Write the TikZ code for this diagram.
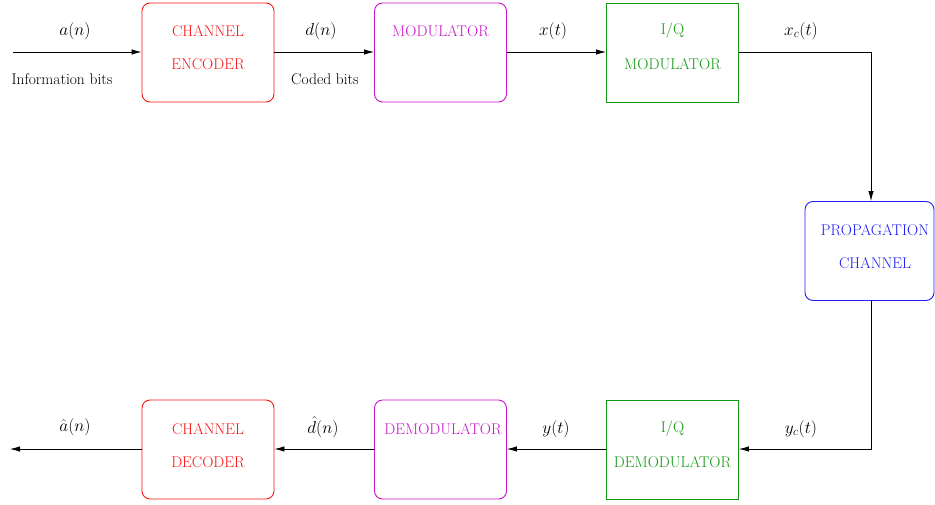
\documentclass[tikz,border=0pt]{standalone}
\usetikzlibrary{arrows.meta}
\definecolor{cred}{RGB}{250,20,20}
\definecolor{cmag}{RGB}{200,20,200}
\definecolor{cgreen}{RGB}{20,150,20}
\definecolor{cblue}{RGB}{30,30,240}
\begin{document}
\begin{tikzpicture}[x=1pt,y=-1pt,
  font=\fontsize{15.5}{18}\selectfont,
  blk/.style={draw, line width=0.9pt, minimum width=132pt, minimum height=99pt, inner sep=0pt},
  rblk/.style={blk, rounded corners=8pt},
  lbl/.style={inner sep=0pt},
  mlbl/.style={inner sep=0pt, font=\fontsize{18}{20}\selectfont},
  conn/.style={line width=0.8pt, -{Latex[length=10pt,width=5.5pt]}}]
\useasboundingbox (0,0) rectangle (935,504);
% boxes
\node[rblk, draw=cred] (enc) at (208,52.5) {};
\node[rblk, draw=cmag] (mod) at (440.5,52.5) {};
\node[blk, draw=cgreen] (iqm) at (672.5,52.5) {};
\node[rblk, draw=cblue, minimum width=129pt] (prop) at (869.5,251) {};
\node[rblk, draw=cred] (dec) at (208,449.5) {};
\node[rblk, draw=cmag] (dem) at (440.5,449.5) {};
\node[blk, draw=cgreen] (iqd) at (672.5,449.5) {};
% box texts
\node[lbl, text=cred] (t1) at (208,31) {CHANNEL};
\node[lbl, text=cred] (t2) at (208,64) {ENCODER};
\node[lbl, text=cmag] (t3) at (440.5,31) {MODULATOR};
\node[lbl, text=cgreen] (t4) at (672.5,31) {I/Q};
\node[lbl, text=cgreen] (t5) at (672.5,64) {MODULATOR};
\node[lbl, text=cblue] (t6) at (875,230) {PROPAGATION};
\node[lbl, text=cblue] (t7) at (875,263) {CHANNEL};
\node[lbl, text=cred] (t8) at (208,429) {CHANNEL};
\node[lbl, text=cred] (t9) at (208,462) {DECODER};
\node[lbl, text=cmag] (t10) at (443,429) {DEMODULATOR};
\node[lbl, text=cgreen] (t11) at (672.5,429) {I/Q};
\node[lbl, text=cgreen] (t12) at (672.5,462) {DEMODULATOR};
% connectors
\coordinate (in) at (13,52);
\coordinate (out) at (10,449);
\coordinate (c1) at (871,52);
\coordinate (c2) at (871,449);
\draw[conn] (in) -- (enc.west |- in);
\draw[conn] (enc.east |- in) -- (mod.west |- in);
\draw[conn] (mod.east |- in) -- (iqm.west |- in);
\draw[conn] (iqm.east |- c1) -- (c1) -- (c1 |- prop.north);
\draw[conn] (c1 |- prop.south) -- (c2) -- (iqd.east |- c2);
\draw[conn] (iqd.west |- c2) -- (dem.east |- c2);
\draw[conn] (dem.west |- c2) -- (dec.east |- c2);
\draw[conn] (dec.west |- out) -- (out);
% labels
\node[mlbl] (la) at (75,31) {$a(n)$};
\node[lbl] (lib) at (62,79) {Information bits};
\node[mlbl] (ld) at (321,31) {$d(n)$};
\node[lbl] (lcb) at (325,79) {Coded bits};
\node[mlbl] (lx) at (553,31) {$x(t)$};
\node[mlbl] (lxc) at (801,31) {$x_c(t)$};
\node[mlbl] (lyc) at (801,429) {$y_c(t)$};
\node[mlbl] (ly) at (556,429) {$y(t)$};
\node[mlbl] (ldh) at (323,427) {$\hat{d}(n)$};
\node[mlbl] (lah) at (75,427) {$\hat{a}(n)$};
\end{tikzpicture}
\end{document}
